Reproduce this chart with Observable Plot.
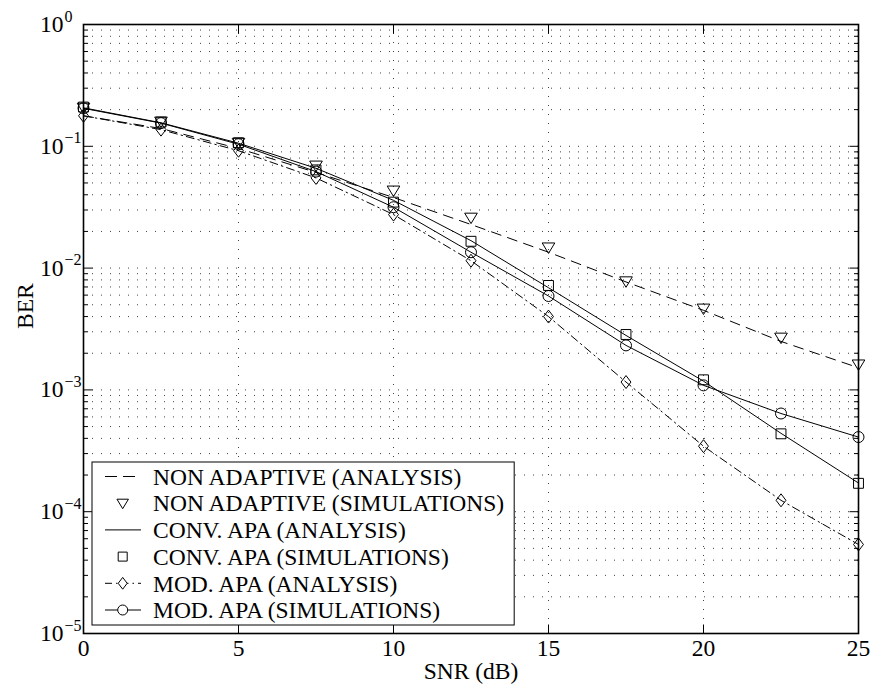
<!DOCTYPE html>
<html>
<head>
<meta charset="utf-8">
<script src="https://cdn.jsdelivr.net/npm/d3@7"></script>
<script src="https://cdn.jsdelivr.net/npm/@observablehq/plot@0.6"></script>
<style>
  body { margin: 0; background: #fff; }
  svg { display: block; }
</style>
</head>
<body>
<div id="chart"></div>
<script>
// SNR values (dB) at which BER was evaluated
const snr = [0, 2.5, 5, 7.5, 10, 12.5, 15, 17.5, 20, 22.5, 25];

// Bit error rate for each scheme
const nonAdaptiveAnalysis = [0.178, 0.140, 0.096, 0.061, 0.038, 0.0228, 0.0135, 0.0077, 0.0045, 0.0025, 0.00152];
const nonAdaptiveSim      = [0.208, 0.160, 0.107, 0.0696, 0.0434, 0.026, 0.0148, 0.0078, 0.00466, 0.00269, 0.00162];
const convApaAnalysis     = [0.207, 0.156, 0.106, 0.066, 0.036, 0.0168, 0.0069, 0.0028, 0.00118, 0.00044, 0.000172];
const convApaSim          = [0.210, 0.158, 0.107, 0.064, 0.0348, 0.0166, 0.0072, 0.00285, 0.00121, 0.000436, 0.000171];
const modApaAnalysis      = [0.178, 0.137, 0.092, 0.055, 0.0275, 0.0115, 0.0040, 0.00116, 0.000345, 0.000124, 0.0000538];
const modApaSim           = [0.205, 0.155, 0.104, 0.062, 0.0316, 0.0135, 0.0059, 0.00232, 0.00109, 0.00064, 0.00041];

// Legend labels
const seriesNames = [
  "NON ADAPTIVE (ANALYSIS)",
  "NON ADAPTIVE (SIMULATIONS)",
  "CONV. APA (ANALYSIS)",
  "CONV. APA (SIMULATIONS)",
  "MOD. APA (ANALYSIS)",
  "MOD. APA (SIMULATIONS)"
];
const seriesValues = [nonAdaptiveAnalysis, nonAdaptiveSim, convApaAnalysis, convApaSim, modApaAnalysis, modApaSim];

// Axis ticks
const xTicks = [0, 5, 10, 15, 20, 25];
const xGrid = [5, 10, 15, 20];
const yMajor = [1e-5, 1e-4, 1e-3, 1e-2, 1e-1, 1];
const yExponents = ["\u22125", "\u22124", "\u22123", "\u22122", "\u22121", "0"];
const yMinor = d3.range(-5, 0).flatMap(e => d3.range(2, 10).map(m => m * Math.pow(10, e)));

const serif = "'Liberation Serif', 'Times New Roman', serif";
const fontSize = 23.5;

// Marker shapes (open, black outline)
const triangleDown = {draw(ctx, size) {
  const r = Math.sqrt(size / Math.PI);
  ctx.moveTo(-1.15 * r, -0.8 * r); ctx.lineTo(1.15 * r, -0.8 * r); ctx.lineTo(0, 1.1 * r); ctx.closePath();
}};
const square = {draw(ctx, size) {
  const r = Math.sqrt(size / Math.PI) * 0.9;
  ctx.moveTo(-r, -r); ctx.lineTo(r, -r); ctx.lineTo(r, r); ctx.lineTo(-r, r); ctx.closePath();
}};
const diamond = {draw(ctx, size) {
  const r = Math.sqrt(size / Math.PI);
  ctx.moveTo(0, -1.18 * r); ctx.lineTo(0.9 * r, 0); ctx.lineTo(0, 1.18 * r); ctx.lineTo(-0.9 * r, 0); ctx.closePath();
}};
const circle = {draw(ctx, size) {
  const r = Math.sqrt(size / Math.PI);
  ctx.moveTo(r, 0); ctx.arc(0, 0, r, 0, 2 * Math.PI);
}};

// Inward tick marks drawn as short strokes
const tickLen = (len) => ({
  right: {draw(ctx) { ctx.moveTo(0, 0); ctx.lineTo(len, 0); }},
  left:  {draw(ctx) { ctx.moveTo(0, 0); ctx.lineTo(-len, 0); }},
  up:    {draw(ctx) { ctx.moveTo(0, 0); ctx.lineTo(0, -len); }},
  down:  {draw(ctx) { ctx.moveTo(0, 0); ctx.lineTo(0, len); }}
});
const majorTick = tickLen(9);
const minorTick = tickLen(4.5);

// Line style and marker per series (null: markers only)
const lineDash = ["10,7", null, "", null, "8,4,1.5,4", ""];
const markers = [null, triangleDown, null, square, diamond, circle];
const legendDash = ["12,6", null, "", null, "7,4,1.5,4", ""];

const rows = seriesValues.map((vals, k) => snr.map((s, i) => ({snr: s, ber: vals[i], k})));

const marks = [
  // dotted grid
  Plot.ruleX(xGrid, {stroke: "#000", strokeOpacity: 0.75, strokeWidth: 1, strokeDasharray: "1,8"}),
  Plot.ruleY(yMajor.slice(1, -1).concat(yMinor), {stroke: "#000", strokeOpacity: 0.75, strokeWidth: 1, strokeDasharray: "1,8"})
];

rows.forEach((data, k) => {
  if (lineDash[k] !== null) {
    marks.push(Plot.line(data, {
      x: "snr", y: "ber", stroke: "#000", strokeWidth: 1,
      strokeDasharray: lineDash[k] === "" ? null : lineDash[k]
    }));
  }
});
rows.forEach((data, k) => {
  if (markers[k]) {
    marks.push(Plot.dot(data, {
      x: "snr", y: "ber", symbol: markers[k], r: 5.5,
      fill: "none", stroke: "#000", strokeWidth: 1
    }));
  }
});

marks.push(
  // inward ticks on all four sides
  Plot.dot(yMajor, {y: d => d, frameAnchor: "left", symbol: majorTick.right, stroke: "#000", strokeWidth: 1, fill: "none"}),
  Plot.dot(yMajor, {y: d => d, frameAnchor: "right", symbol: majorTick.left, stroke: "#000", strokeWidth: 1, fill: "none"}),
  Plot.dot(yMinor, {y: d => d, frameAnchor: "left", symbol: minorTick.right, stroke: "#000", strokeWidth: 1, fill: "none"}),
  Plot.dot(yMinor, {y: d => d, frameAnchor: "right", symbol: minorTick.left, stroke: "#000", strokeWidth: 1, fill: "none"}),
  Plot.dot(xTicks, {x: d => d, frameAnchor: "bottom", symbol: majorTick.up, stroke: "#000", strokeWidth: 1, fill: "none"}),
  Plot.dot(xTicks, {x: d => d, frameAnchor: "top", symbol: majorTick.down, stroke: "#000", strokeWidth: 1, fill: "none"}),
  Plot.frame({stroke: "#000", strokeWidth: 1.6}),
  // y tick labels: 10 with superscript exponent
  Plot.text(yMajor, {y: d => d, text: () => "10", frameAnchor: "left", textAnchor: "end", dx: -20, fontSize, fontFamily: serif, fill: "#000"}),
  Plot.text(yMajor, {y: d => d, text: (d, i) => yExponents[i], frameAnchor: "left", textAnchor: "start", dx: -19, dy: -8, fontSize: 16, fontFamily: serif, fill: "#000"}),
  // x tick labels
  Plot.text(xTicks, {x: d => d, text: d => String(d), frameAnchor: "bottom", dy: 22, fontSize, fontFamily: serif, fill: "#000"}),
  // axis titles
  Plot.text(["SNR (dB)"], {text: d => d, frameAnchor: "bottom", dy: 45, fontSize, fontFamily: serif, fill: "#000"}),
  Plot.text(["BER"], {text: d => d, frameAnchor: "left", dx: -58, rotate: -90, fontSize, fontFamily: serif, fill: "#000"})
);

const chart = Plot.plot({
  width: 871,
  height: 691,
  marginLeft: 83,
  marginRight: 13,
  marginTop: 24,
  marginBottom: 58,
  x: {domain: [0, 25], axis: null},
  y: {type: "log", domain: [1e-5, 1], axis: null},
  style: {fontFamily: serif, color: "#000", background: "#fff"},
  marks
});
document.getElementById("chart").appendChild(chart);

// Legend box in the lower-left corner of the axes
const svg = d3.select(chart);
const lg = svg.append("g")
  .attr("font-family", serif).attr("font-size", fontSize).attr("text-anchor", "start");
const box = lg.append("rect").attr("fill", "#fff").attr("stroke", "#000").attr("stroke-width", 1);
const boxLeft = 92, boxTop = 462, boxBottom = 625, rowStep = 26.7, firstRow = 476.5;
const lineX0 = 105, lineX1 = 141, markX = 122.7, textX = 153;
let maxEnd = 0;
seriesNames.forEach((name, k) => {
  const y = firstRow + k * rowStep;
  if (legendDash[k] !== null) {
    lg.append("line").attr("x1", lineX0).attr("x2", lineX1).attr("y1", y).attr("y2", y)
      .attr("stroke", "#000").attr("stroke-width", 1)
      .attr("stroke-dasharray", legendDash[k] || null);
  }
  if (markers[k]) {
    lg.append("path").attr("transform", `translate(${markX},${y})`)
      .attr("d", d3.symbol(markers[k], Math.PI * 5 * 5)())
      .attr("fill", markers[k] === circle || markers[k] === diamond ? "#fff" : "none")
      .attr("stroke", "#000").attr("stroke-width", 1);
  }
  const t = lg.append("text").attr("x", textX).attr("y", y).attr("dy", "0.35em")
    .attr("text-anchor", "start").attr("fill", "#000").text(name);
  maxEnd = Math.max(maxEnd, textX + t.node().getComputedTextLength());
});
box.attr("x", boxLeft).attr("y", boxTop).attr("width", maxEnd + 10 - boxLeft).attr("height", boxBottom - boxTop);
</script>
</body>
</html>
